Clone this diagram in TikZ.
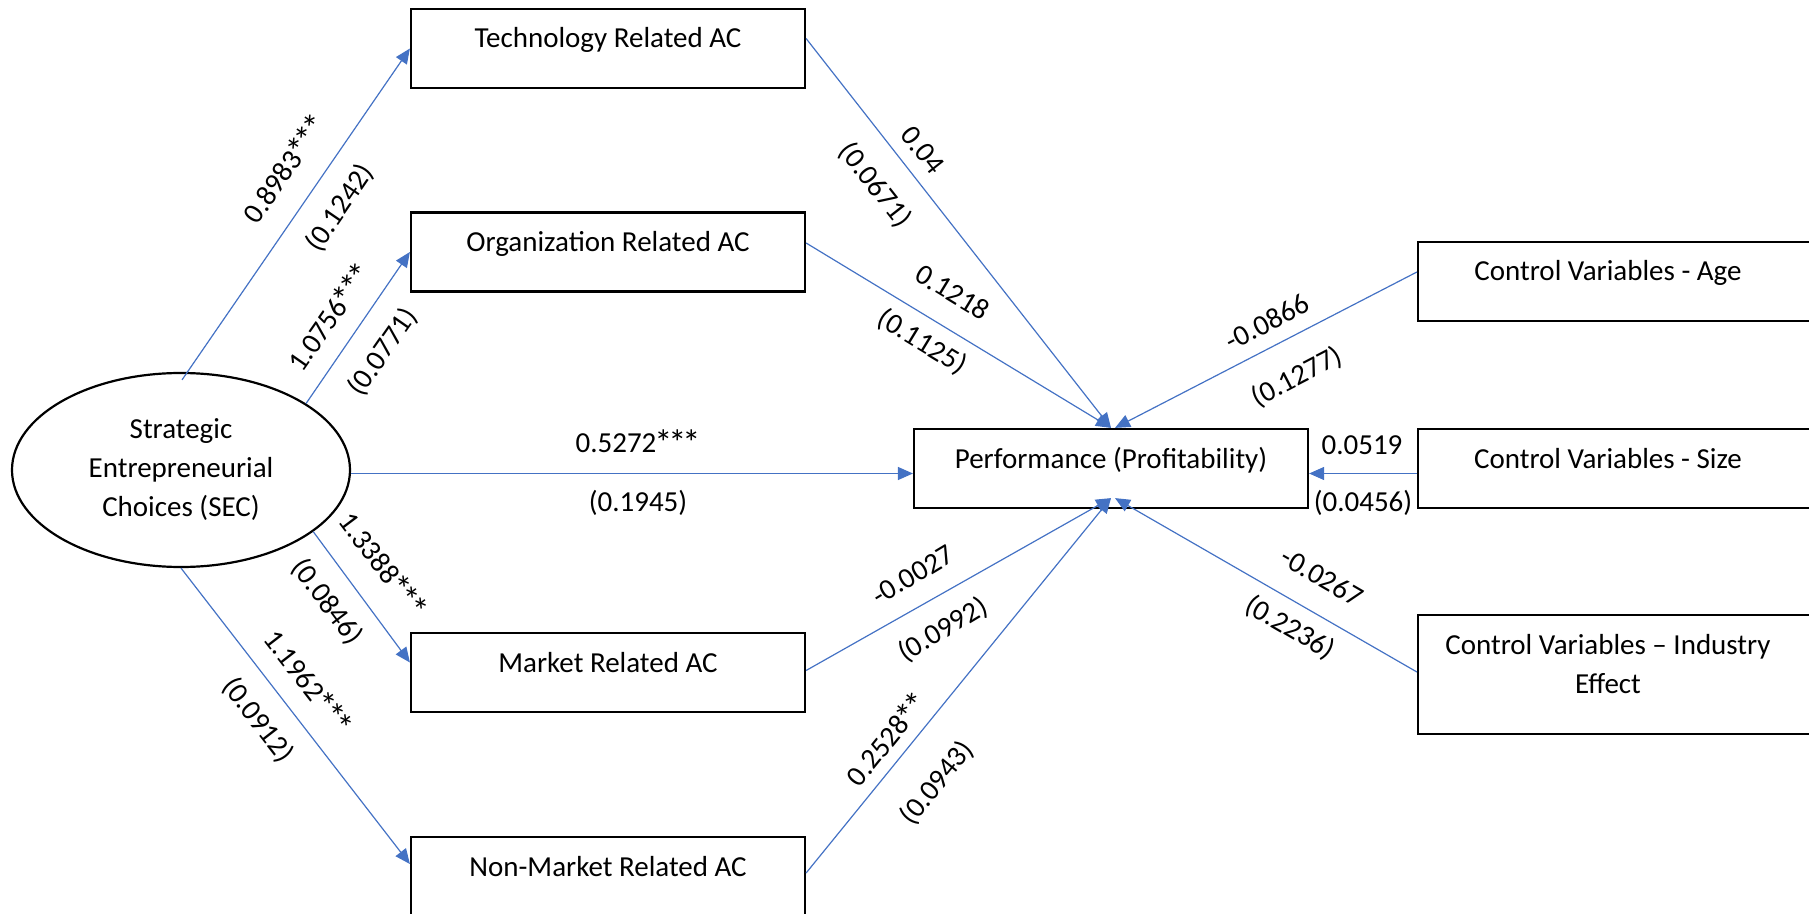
\documentclass[tikz,border=0pt]{standalone}
\usepackage{fontspec}
\setmainfont{Carlito}
\usetikzlibrary{arrows.meta,calc,shapes.geometric}
\definecolor{lineblue}{HTML}{4472C4}
\newcommand{\sigstar}{\makebox[7pt]{\raisebox{-1.8pt}{\scalebox{1.25}{*}}}}
\begin{document}
\begin{tikzpicture}[x=0.5pt,y=-0.5pt,
  font=\fontsize{14.5pt}{19.5pt}\selectfont,
  acbox/.style={draw=black,line width=1.1pt,minimum width=197pt,minimum height=39.5pt,
    inner sep=0pt,text height=19.5pt,text depth=20pt},
  ctrlbox/.style={acbox},
  lab/.style={inner sep=0pt},
  arr/.style={draw=lineblue,line width=0.6pt,-{Triangle[length=7.5pt,width=6.5pt]}}]
\useasboundingbox (0,0) rectangle (1809,914);

% nodes
\node[ellipse,draw=black,line width=1.1pt,minimum width=169pt,minimum height=97pt,
  inner sep=0pt,align=center] (SEC) at (181,470) {Strategic\\Entrepreneurial\\Choices (SEC)};
\node[acbox] (tech) at (608,48.5) {Technology Related AC};
\node[acbox] (org) at (608,252) {Organization Related AC};
\node[acbox] (market) at (608,672.5) {Market Related AC};
\node[acbox] (nonmkt) at (608,876.5) {Non-Market Related AC};
\node[acbox] (perf) at (1111,468.5) {Performance (Profitability)};
\node[ctrlbox] (age) at (1615,281.5) {Control Variables - Age\hspace*{7pt}};
\node[ctrlbox] (size) at (1615,468.5) {Control Variables - Size\hspace*{7pt}};
\node[ctrlbox,minimum height=59.5pt,text depth=40pt] (ind) at (1615,674.5)
  {\begin{tabular}[t]{@{}c@{}}Control Variables – Industry\\Effect\end{tabular}\hspace*{7pt}};

% connectors
\draw[arr] ($(SEC.north)+(1,8)$) -- (tech.west);
\draw[arr] (SEC.28) -- (org.west);
\draw[arr] ($(SEC.east)+(0,3.5)$) -- ($(perf.west)+(0,5)$);
\draw[arr] (SEC.-25) -- ($(market.west)+(0,-10)$);
\draw[arr] (SEC.south) -- ($(nonmkt.west)+(0,-12.5)$);
\draw[arr] ($(tech.east)+(0,-10)$) -- (perf.north);
\draw[arr] ($(org.east)+(0,-9)$) -- (perf.north);
\draw[arr] ($(market.east)+(0,-2)$) -- ($(perf.south)+(0,-11)$);
\draw[arr] ($(nonmkt.east)+(0,-3.5)$) -- ($(perf.south)+(0,-11)$);
\draw[arr] ($(age.west)+(0,-9.5)$) -- ($(perf.north)+(4,0)$);
\draw[arr] ($(size.west)+(0,5)$) -- ($(perf.east)+(0,5)$);
\draw[arr] ($(ind.west)+(0,-2.5)$) -- ($(perf.south)+(4,-11)$);

% labels
\node[lab,rotate=55.5] (l1a) at (285,170) {0.8983\sigstar\sigstar\sigstar};
\node[lab,rotate=55.5] (l1b) at (340,208) {(0.1242)};
\node[lab,rotate=55.1] (l2a) at (330,318) {1.0756\sigstar\sigstar\sigstar};
\node[lab,rotate=55.1] (l2b) at (383,352) {(0.0771)};
\node[lab] (l3a) at (637,443) {0.5272\sigstar\sigstar\sigstar};
\node[lab] (l3b) at (638,503) {(0.1945)};
\node[lab,rotate=-53] (l4a) at (382,565) {1.3388\sigstar\sigstar\sigstar};
\node[lab,rotate=-53] (l4b) at (327,602) {(0.0846)};
\node[lab,rotate=-52.3] (l5a) at (307,682) {1.1962\sigstar\sigstar\sigstar};
\node[lab,rotate=-52.3] (l5b) at (258,720) {(0.0912)};
\node[lab,rotate=-51.9] (l6a) at (923,150) {0.04};
\node[lab,rotate=-51.9] (l6b) at (875,185) {(0.0671)};
\node[lab,rotate=-31.3] (l7a) at (953,292) {0.1218};
\node[lab,rotate=-31.3] (l7b) at (922,342) {(0.1125)};
\node[lab,rotate=31] (l8a) at (913,575) {-0.0027};
\node[lab,rotate=31] (l8b) at (943,630) {(0.0992)};
\node[lab,rotate=50.9] (l9a) at (887,740) {0.2528\sigstar\sigstar};
\node[lab,rotate=50.9] (l9b) at (937,783) {(0.0943)};
\node[lab,rotate=27.4] (l10a) at (1267,322) {-0.0866};
\node[lab,rotate=27.4] (l10b) at (1297,377) {(0.1277)};
\node[lab] (l11a) at (1362,445) {0.0519};
\node[lab] (l11b) at (1363,503) {(0.0456)};
\node[lab,rotate=-30] (l12a) at (1322,577) {-0.0267};
\node[lab,rotate=-30] (l12b) at (1290,628) {(0.2236)};
\end{tikzpicture}
\end{document}
